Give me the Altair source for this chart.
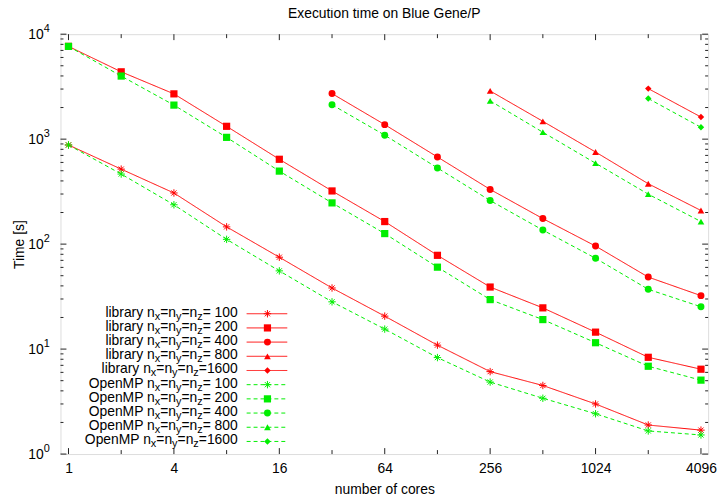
import altair as alt
import pandas as pd

# ---------------- data ----------------
cores = [1, 2, 4, 8, 16, 32, 64, 128, 256, 512, 1024, 2048, 4096]
grid_sizes = ["100", "200", "400", "800", "1600"]

lib_100 = [880, 518, 307, 146, 75, 38.2, 20.6, 10.9, 6.1, 4.5, 3.0, 1.89, 1.69]
lib_200 = [7650, 4380, 2700, 1325, 643, 321, 164, 78.2, 39, 24.7, 14.5, 8.35, 6.43]
lib_400 = [2716, 1375, 676, 332, 175, 95.8, 48.5, 32.3]
lib_800 = [2879, 1479, 754, 376, 209]
lib_1600 = [3030, 1624]

omp_100 = [880, 465, 237, 111, 55.6, 28.2, 15.5, 8.3, 4.85, 3.4, 2.42, 1.66, 1.52]
omp_200 = [7650, 3990, 2110, 1040, 496, 247, 126, 60.3, 29.6, 19.1, 11.5, 6.86, 5.06]
omp_400 = [2125, 1091, 532, 260, 136, 73.3, 37.1, 25.3]
omp_800 = [2317, 1164, 590, 299, 164]
omp_1600 = [2437, 1297]

x_labels = [1, 4, 16, 64, 256, 1024, 4096]
y_decades = [1, 10, 100, 1000, 10000]
y_exponents = ["0", "1", "2", "3", "4"]

title_text = "Execution time on Blue Gene/P"
x_title = "number of cores"
y_title = "Time [s]"

# ---------------- build table ----------------
series = {
    ("library", "100"): lib_100, ("library", "200"): lib_200,
    ("library", "400"): lib_400, ("library", "800"): lib_800,
    ("library", "1600"): lib_1600,
    ("OpenMP", "100"): omp_100, ("OpenMP", "200"): omp_200,
    ("OpenMP", "400"): omp_400, ("OpenMP", "800"): omp_800,
    ("OpenMP", "1600"): omp_1600,
}
rows = []
for (impl, n), vals in series.items():
    xs_ = cores[len(cores) - len(vals):]
    for c, v in zip(xs_, vals):
        rows.append({"cores": c, "time": v, "impl": impl, "n": n, "series": impl + n})
df = pd.DataFrame(rows)

FONT = "Liberation Sans"
W, H = 654, 424
RED, GREEN = "#ff0000", "#00ee00"
STAR = "M-1,0L1,0M0,-1L0,1M-0.7,-0.7L0.7,0.7M-0.7,0.7L0.7,-0.7"

xs = alt.Scale(type="log", base=2, domain=[0.9, 4500], nice=False)
ys = alt.Scale(type="log", domain=[1, 10000], nice=False)
color = alt.Color("impl:N", scale=alt.Scale(domain=["library", "OpenMP"], range=[RED, GREEN]), legend=None)
dash = alt.StrokeDash("impl:N", scale=alt.Scale(domain=["library", "OpenMP"], range=[[1, 0], [4, 3]]), legend=None)
shape = alt.Shape("n:N", scale=alt.Scale(domain=["200", "400", "800", "1600"],
                                         range=["square", "circle", "triangle-up", "diamond"]), legend=None)
size = alt.Size("n:O", scale=alt.Scale(domain=["200", "400", "800", "1600"], range=[53, 42, 45, 40]), legend=None)

x_enc = alt.X("cores:Q", scale=xs, axis=alt.Axis(
    values=cores, labelExpr="indexof([1,4,16,64,256,1024,4096], datum.value) >= 0 ? toString(datum.value) : ''",
    ticks=False, tickSize=0, domain=False, grid=False, labelFontSize=14, labelPadding=8,
    labelOverlap=False, labelFlush=False, labelColor="#000", labelFont=FONT,
    title=x_title, titleFontSize=14, titleFontWeight="normal", titlePadding=7, titleFont=FONT, titleColor="#000"))
y_enc = alt.Y("time:Q", scale=ys, axis=alt.Axis(
    labels=False, ticks=False, tickSize=0, domain=False, grid=False,
    title=y_title, titleFontSize=14, titleFontWeight="normal", titlePadding=34, titleFont=FONT, titleColor="#000"))

base = alt.Chart(df)
lines = base.mark_line(strokeWidth=1).encode(x=x_enc, y=y_enc, color=color, strokeDash=dash, detail="series:N")
stars = base.transform_filter("datum.n == '100'").mark_point(
    shape=STAR, filled=False, strokeWidth=1, size=56, opacity=1).encode(x="cores:Q", y="time:Q", color=color)
pts = base.transform_filter("datum.n != '100'").mark_point(
    filled=True, opacity=1, strokeWidth=0).encode(x="cores:Q", y="time:Q", color=color, shape=shape, size=size)

# ---------------- axis ticks (inward, mirrored) ----------------
xt = pd.DataFrame({"cores": cores, "major": [c in x_labels for c in cores]})
minor_y = [m * d for d in y_decades[:-1] for m in range(2, 10)]
yt_major = pd.DataFrame({"time": y_decades})
yt_minor = pd.DataFrame({"time": minor_y})

def xticks(major):
    d = alt.Chart(xt).transform_filter(("datum.major" if major else "!datum.major"))
    L = 6 if major else 4
    b = d.mark_rule(color="#222", strokeWidth=1).encode(x="cores:Q", y=alt.value(H), y2=alt.value(H - L))
    t = d.mark_rule(color="#222", strokeWidth=1).encode(x="cores:Q", y=alt.value(0), y2=alt.value(L))
    return [b, t]

def yticks(dfk, L):
    l = alt.Chart(dfk).mark_rule(color="#222", strokeWidth=1).encode(y="time:Q", x=alt.value(0), x2=alt.value(L))
    r = alt.Chart(dfk).mark_rule(color="#222", strokeWidth=1).encode(y="time:Q", x=alt.value(W), x2=alt.value(W - L))
    return [l, r]

ticks = xticks(True) + xticks(False) + yticks(yt_major, 6) + yticks(yt_minor, 3)

# y tick labels 10^k
ylab = pd.DataFrame({"time": y_decades, "exp": y_exponents})
ten = alt.Chart(ylab).mark_text(align="right", baseline="middle", fontSize=14, font=FONT, color="#000", dy=1).encode(
    y="time:Q", x=alt.value(-17), text=alt.value("10"))
expo = alt.Chart(ylab).mark_text(align="left", baseline="middle", fontSize=11, font=FONT, color="#000", dy=-5).encode(
    y="time:Q", x=alt.value(-17), text="exp:N")

# title
title_mark = alt.Chart(pd.DataFrame({"t": [title_text]})).mark_text(
    align="center", baseline="middle", fontSize=14, font=FONT, color="#000").encode(
    x=alt.value(W / 2), y=alt.value(-20), text="t:N")

# ---------------- custom legend ----------------
ARIAL = {' ': 278, 'l': 222, 'i': 222, 'b': 556, 'r': 333, 'a': 556, 'y': 500, 'O': 778, 'p': 556,
         'e': 556, 'n': 556, 'M': 833, 'P': 667, 'x': 500, 'z': 500, '=': 584}
for ch in "0123456789":
    ARIAL[ch] = 556

def tw(s, fs):
    return sum(ARIAL.get(c, 556) for c in s) * fs / 1000.0

TXT_R = 179
ROW0, STEP = 282.3, 14.33
leg_rows, leg_txt = [], []
for i, (impl, n) in enumerate(series.keys()):
    py = ROW0 + STEP * i
    leg_rows.append({"impl": impl, "n": n, "px": 209, "x1": 188, "x2": 229, "py": py})
    tail = "=%4d" % int(n)
    pieces = [(impl + " n", 14, 0), ("x", 11, 4), ("=n", 14, 0), ("y", 11, 4), ("=n", 14, 0), ("z", 11, 4), (tail, 14, 0)]
    right = TXT_R
    for txt, fs, off in reversed(pieces):
        leg_txt.append({"t": txt, "fs": fs, "px": right, "py": py - 1 + off})
        right -= tw(txt, fs)
leg_df = pd.DataFrame(leg_rows)
leg_t = pd.DataFrame(leg_txt)

leg_lines = alt.Chart(leg_df).mark_rule(strokeWidth=1).encode(
    x=alt.X("x1:Q", scale=None), x2="x2:Q", y=alt.Y("py:Q", scale=None), color=color, strokeDash=dash)
leg_star = alt.Chart(leg_df).transform_filter("datum.n == '100'").mark_point(
    shape=STAR, filled=False, strokeWidth=1, size=56, opacity=1).encode(
    x=alt.X("px:Q", scale=None), y=alt.Y("py:Q", scale=None), color=color)
leg_pts = alt.Chart(leg_df).transform_filter("datum.n != '100'").mark_point(
    filled=True, opacity=1, strokeWidth=0).encode(
    x=alt.X("px:Q", scale=None), y=alt.Y("py:Q", scale=None), color=color, shape=shape, size=size)
leg_text = alt.Chart(leg_t).mark_text(align="right", baseline="middle", font=FONT, color="#000").encode(
    x=alt.X("px:Q", scale=None), y=alt.Y("py:Q", scale=None), text="t:N", size=alt.Size("fs:Q", scale=None))

chart = alt.layer(
    lines, stars, pts, *ticks, ten, expo, title_mark, leg_lines, leg_star, leg_pts, leg_text
).properties(
    width=W, height=H,
    autosize=alt.AutoSizeParams(type="none"),
    padding={"left": 53, "top": 24, "right": 12, "bottom": 47},
).configure_view(stroke="#222", strokeWidth=1.5).configure(background="white")

chart.save("out.html", embed_options={"renderer": "svg", "actions": False})
